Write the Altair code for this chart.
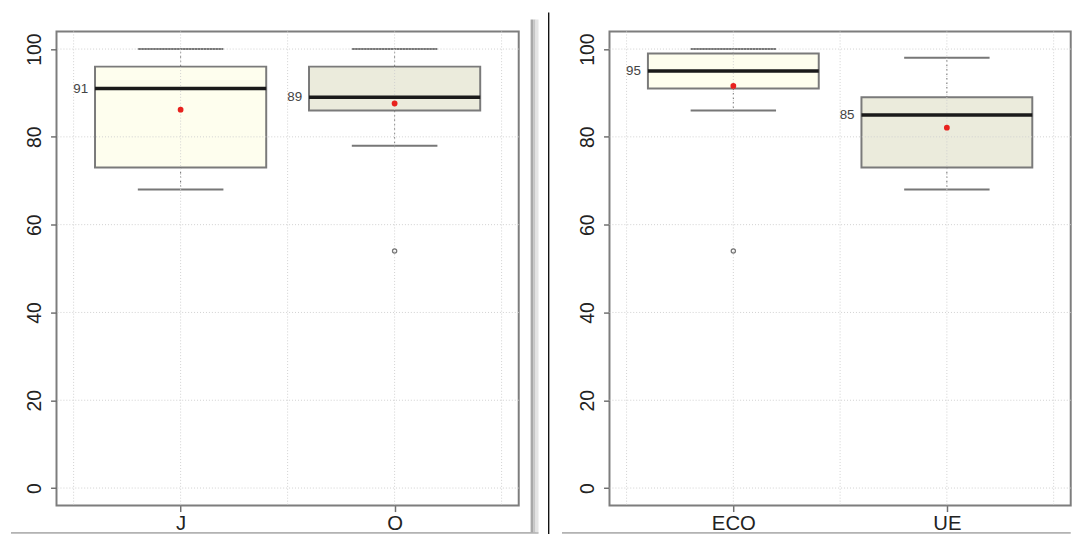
import altair as alt
import pandas as pd

# ---------------- data ----------------
panels = ["left", "left", "right", "right"]
groups = ["J", "O", "ECO", "UE"]
positions = [1, 2, 1, 2]
whisker_low = [68, 78, 86, 68]
q1 = [73, 86, 91, 73]
medians = [91, 89, 95, 85]
q3 = [96, 96, 99, 89]
whisker_high = [100, 100, 100, 98]
means = [86.2, 87.6, 91.6, 82.1]
box_fill = ["#FEFEEE", "#EBEBDC", "#FEFEEE", "#EBEBDC"]

outlier_panel = ["left", "right"]
outlier_pos = [2, 1]
outlier_value = [54, 54]

y_tick_values = [0, 20, 40, 60, 80, 100]
x_grid_values = [0.5, 1, 1.5, 2, 2.5]

box_df = pd.DataFrame(dict(panel=panels, group=groups, pos=positions,
                           lo=whisker_low, q1=q1, med=medians, q3=q3,
                           hi=whisker_high, mean=means, fill=box_fill))
out_df = pd.DataFrame(dict(panel=outlier_panel, pos=outlier_pos, value=outlier_value))
ygrid_df = pd.DataFrame({"v": y_tick_values})
xgrid_df = pd.DataFrame({"g": x_grid_values})
deco_df = pd.DataFrame({"k": [0]})

H = 479
BOXWEX = 0.8
STAPLE = 0.4
FONT = "Liberation Sans"
CARD_TOP = -19.2
CARD_BOTTOM = 507.8

x_scale = alt.Scale(domain=[0.42, 2.58], nice=False, zero=False)
y_scale = alt.Scale(domain=[-4, 104], nice=False, zero=False)


def deco_rect(x1, x2, y1, y2, color, opacity=1.0):
    return alt.Chart(deco_df).mark_rect(color=color, opacity=opacity).encode(
        x=alt.value(x1), x2=alt.value(x2), y=alt.value(y1), y2=alt.value(y2))


def panel(name, width, card_right, with_separator, with_right_shadow):
    d = box_df[box_df.panel == name]
    o = out_df[out_df.panel == name]
    labels = list(d.group)
    label_expr = f"datum.value == 1 ? '{labels[0]}' : '{labels[1]}'"
    xax = alt.Axis(values=[1, 2], labelExpr=label_expr, grid=False, domain=False,
                   tickSize=6, tickColor="#707070", tickWidth=1.5,
                   labelFont=FONT, labelFontSize=20.5, labelColor="#222222",
                   labelPadding=2, title=None)
    yax = alt.Axis(values=y_tick_values, grid=False, domain=False,
                   tickSize=6, tickColor="#707070", tickWidth=1.5,
                   labelFont=FONT, labelFontSize=19.5, labelColor="#222222",
                   labelAngle=270, labelAlign="center", labelBaseline="bottom",
                   labelPadding=6, title=None)

    def X(f):
        return alt.X(f, type="quantitative", scale=x_scale, axis=xax)

    def Y(f):
        return alt.Y(f, type="quantitative", scale=y_scale, axis=yax)

    base = alt.Chart(d).transform_calculate(
        bl=f"datum.pos - {BOXWEX / 2}", br=f"datum.pos + {BOXWEX / 2}",
        cl=f"datum.pos - {STAPLE / 2}", cr=f"datum.pos + {STAPLE / 2}")

    # invisible card: fixes the panel's layout bounds
    card = deco_rect(-48, card_right, CARD_TOP, CARD_BOTTOM, "white", opacity=0)

    boxes = base.mark_rect(stroke="#7a7a7a", strokeWidth=2).encode(
        x=X("bl:Q"), x2="br:Q", y=Y("q1:Q"), y2="q3:Q",
        fill=alt.Fill("fill:N", scale=None))
    ygrid = alt.Chart(ygrid_df).mark_rule(color="#d0d0d0", strokeDash=[1, 2], strokeWidth=1).encode(
        y=Y("v:Q"))
    xgrid = alt.Chart(xgrid_df).mark_rule(color="#d0d0d0", strokeDash=[1, 2], strokeWidth=1).encode(
        x=X("g:Q"))
    wh_up = base.mark_rule(color="#666666", strokeDash=[1.5, 3], strokeWidth=1).encode(
        x=X("pos:Q"), y=Y("q3:Q"), y2="hi:Q")
    wh_dn = base.mark_rule(color="#666666", strokeDash=[1.5, 3], strokeWidth=1).encode(
        x=X("pos:Q"), y=Y("q1:Q"), y2="lo:Q")
    cap_up = base.mark_rule(color="#777777", strokeWidth=2).encode(
        x=X("cl:Q"), x2="cr:Q", y=Y("hi:Q"))
    cap_dn = base.mark_rule(color="#777777", strokeWidth=2).encode(
        x=X("cl:Q"), x2="cr:Q", y=Y("lo:Q"))
    med = base.mark_rule(color="#1a1a1a", strokeWidth=3.5).encode(
        x=X("bl:Q"), x2="br:Q", y=Y("med:Q"))
    mean = base.mark_point(filled=True, color="#e8221e", size=34, opacity=1).encode(
        x=X("pos:Q"), y=Y("mean:Q"))
    outl = alt.Chart(o).mark_point(color="#777777", size=18, strokeWidth=1.3, opacity=1).encode(
        x=X("pos:Q"), y=Y("value:Q"))
    lab = base.mark_text(align="right", baseline="middle", dx=-7, font=FONT,
                         fontSize=13.5, color="#444444").encode(
        x=X("bl:Q"), y=Y("med:Q"), text=alt.Text("med:Q", format="d"))

    layers = [boxes, card, wh_up, wh_dn, cap_up, cap_dn, ygrid, xgrid, med, mean, outl, lab]

    # card drop shadow (decoration only)
    x_left = -46 if name == "left" else -48
    x_right = 487 if with_right_shadow else width
    layers += [
        deco_rect(x_left, x_right, CARD_BOTTOM - 2.0, CARD_BOTTOM - 1.0, "#9a9a9a"),
        deco_rect(x_left, x_right, CARD_BOTTOM - 1.0, CARD_BOTTOM, "#c4c4c4"),
    ]
    if with_right_shadow:
        layers += [
            deco_rect(479, 481.5, -12, CARD_BOTTOM - 2.0, "#a8a8a8"),
            deco_rect(481.5, 484, -12, CARD_BOTTOM - 2.0, "#c6c6c6"),
            deco_rect(484, 487, -12, CARD_BOTTOM - 2.0, "#e4e4e4"),
        ]
    if with_separator:
        layers.append(alt.Chart(deco_df).mark_rule(color="black", strokeWidth=1.3).encode(
            x=alt.value(497.3), y=alt.value(CARD_TOP), y2=alt.value(CARD_BOTTOM)))

    return alt.layer(*layers).properties(width=width, height=H)


left = panel("left", 467, 499, True, True)
right = panel("right", 466, 466, False, False)

chart = alt.hconcat(left, right, spacing=9.7).properties(
    padding={"left": 0, "top": 0, "right": 0, "bottom": 0},
    background="white",
).configure_view(stroke="#7d7d7d", strokeWidth=2)

chart.save("out.html", embed_options={"renderer": "svg", "actions": False})
